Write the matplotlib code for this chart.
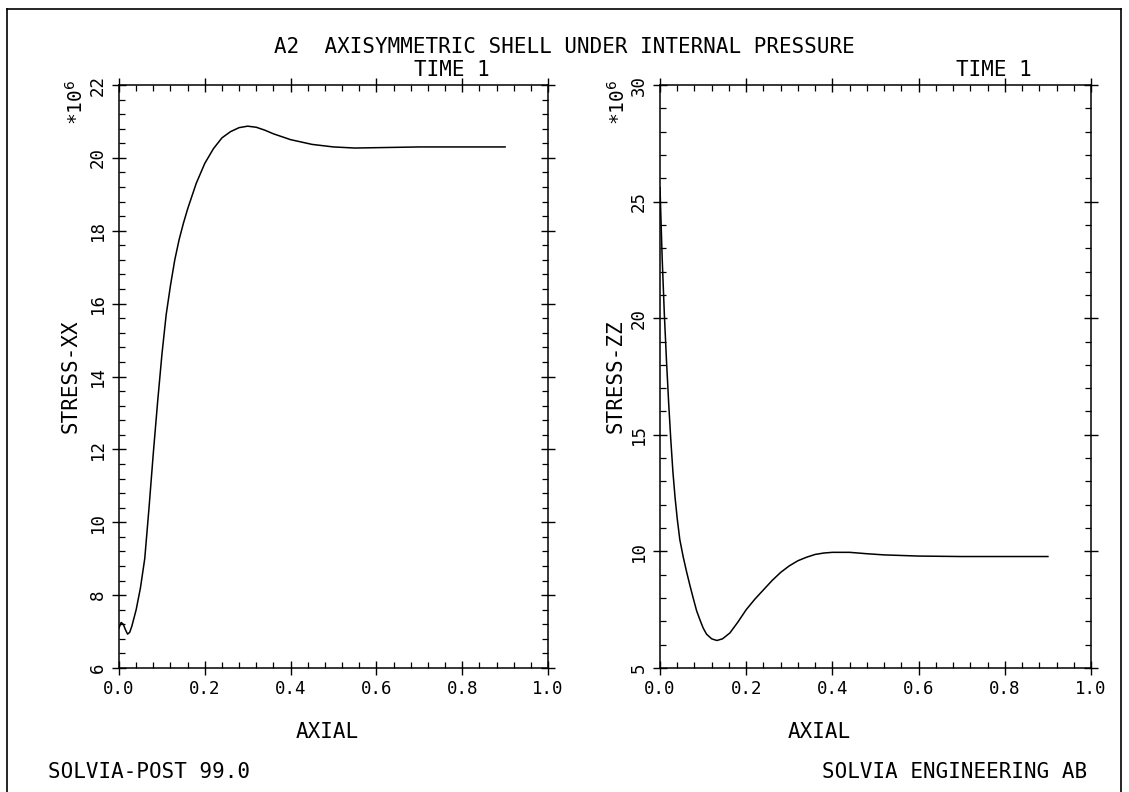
import matplotlib
matplotlib.use("Agg")
import matplotlib.pyplot as plt
from matplotlib.ticker import MultipleLocator
from matplotlib.lines import Line2D

# axial position vs STRESS-XX (units of 1e6)
axial_xx = [0.0, 0.005, 0.01, 0.015, 0.02, 0.025, 0.03, 0.04, 0.05, 0.06, 0.07,
            0.08, 0.09, 0.10, 0.11, 0.12, 0.13, 0.14, 0.15, 0.16, 0.18, 0.20,
            0.22, 0.24, 0.26, 0.28, 0.30, 0.32, 0.34, 0.36, 0.40, 0.45, 0.50,
            0.55, 0.60, 0.70, 0.80, 0.90]
stress_xx = [7.1, 7.25, 7.2, 7.05, 6.93, 6.98, 7.15, 7.6, 8.2, 9.0, 10.4,
             11.9, 13.3, 14.6, 15.7, 16.5, 17.2, 17.75, 18.2, 18.6, 19.3, 19.85,
             20.25, 20.55, 20.72, 20.83, 20.87, 20.84, 20.76, 20.66, 20.5, 20.37, 20.3,
             20.27, 20.28, 20.3, 20.3, 20.3]

# axial position vs STRESS-ZZ (units of 1e6)
axial_zz = [0.0, 0.005, 0.01, 0.015, 0.02, 0.025, 0.03, 0.035, 0.04, 0.046,
            0.054, 0.062, 0.07, 0.077, 0.085, 0.093, 0.10, 0.108, 0.12, 0.132,
            0.145, 0.162, 0.18, 0.20, 0.22, 0.24, 0.26, 0.28, 0.30, 0.32, 0.34,
            0.36, 0.38, 0.40, 0.44, 0.48, 0.52, 0.60, 0.70, 0.80, 0.90]
stress_zz = [25.6, 22.6, 20.2, 18.2, 16.4, 14.8, 13.4, 12.3, 11.4, 10.5,
             9.75, 9.1, 8.5, 8.0, 7.45, 7.05, 6.72, 6.45, 6.25, 6.18,
             6.25, 6.5, 6.95, 7.5, 7.95, 8.35, 8.75, 9.1, 9.38, 9.6, 9.75,
             9.87, 9.93, 9.96, 9.96, 9.9, 9.85, 9.8, 9.78, 9.78, 9.78]

title = "A2  AXISYMMETRIC SHELL UNDER INTERNAL PRESSURE"
mono = "DejaVu Sans Mono"


def setup_axes(ax, ymin, ymax, ymajor, yminor):
    ax.set_xlim(0.0, 1.0)
    ax.set_ylim(ymin, ymax)
    ax.xaxis.set_major_locator(MultipleLocator(0.2))
    ax.xaxis.set_minor_locator(MultipleLocator(0.04))
    ax.yaxis.set_major_locator(MultipleLocator(ymajor))
    ax.yaxis.set_minor_locator(MultipleLocator(yminor))
    ax.xaxis.set_major_formatter(lambda v, p: f"{v:.1f}")
    ax.yaxis.set_major_formatter(lambda v, p: f"{v:.0f}")
    ax.tick_params(which="major", direction="inout", length=10, width=1.0,
                   top=True, right=True, labelsize=12.5, pad=4)
    ax.tick_params(which="minor", direction="in", length=4, width=0.9,
                   top=True, right=True)
    for lab in ax.get_yticklabels():
        lab.set_rotation(90)
        lab.set_va("center")
        lab.set_family(mono)
    for lab in ax.get_xticklabels():
        lab.set_family(mono)
    for s in ax.spines.values():
        s.set_linewidth(1.1)


fig = plt.figure(figsize=(11.29, 7.92), dpi=100)

ax1 = fig.add_axes([119 / 1129, 124 / 792, 429 / 1129, 583 / 792])
ax2 = fig.add_axes([660 / 1129, 124 / 792, 431 / 1129, 583 / 792])

ax1.plot(axial_xx, stress_xx, color="black", linewidth=1.1)
ax2.plot(axial_zz, stress_zz, color="black", linewidth=1.1)

setup_axes(ax1, 6, 22, 2, 0.4)
setup_axes(ax2, 5, 30, 5, 1)

ax1.set_xlabel("AXIAL", family=mono, fontsize=15)
ax1.set_ylabel("STRESS-XX", family=mono, fontsize=15)
ax1.xaxis.set_label_coords(0.485, -0.093)
ax1.yaxis.set_label_coords(-0.09, 0.5)
ax2.set_xlabel("AXIAL", family=mono, fontsize=15)
ax2.set_ylabel("STRESS-ZZ", family=mono, fontsize=15)
ax2.xaxis.set_label_coords(0.37, -0.093)
ax2.yaxis.set_label_coords(-0.079, 0.5)

for ax, xoff in [(ax1, -0.1), (ax2, -0.097)]:
    ax.text(xoff, 1.009, r"*10$^{6}$", transform=ax.transAxes, rotation=90,
            ha="center", va="top", family=mono, fontsize=14)
    ax.text(0.775, 1.026, "TIME 1", transform=ax.transAxes, ha="center",
            va="center", family=mono, fontsize=15)

fig.text(0.5, 1 - 47 / 792, title, ha="center", va="center", family=mono,
         fontsize=15)
fig.text(48 / 1129, 1 - 772 / 792, "SOLVIA-POST 99.0", ha="left", va="center",
         family=mono, fontsize=15)
fig.text(1087 / 1129, 1 - 772 / 792, "SOLVIA ENGINEERING AB", ha="right",
         va="center", family=mono, fontsize=15)

# outer frame
fl, fr, ft = 7 / 1129, 1121 / 1129, 1 - 9 / 792
fig.add_artist(Line2D([fl, fl], [0, ft], transform=fig.transFigure, color="black", linewidth=1.2))
fig.add_artist(Line2D([fl, fr], [ft, ft], transform=fig.transFigure, color="black", linewidth=1.2))
fig.add_artist(Line2D([fr, fr], [0, ft], transform=fig.transFigure, color="black", linewidth=1.2))

fig.savefig("out.png", dpi=100)
